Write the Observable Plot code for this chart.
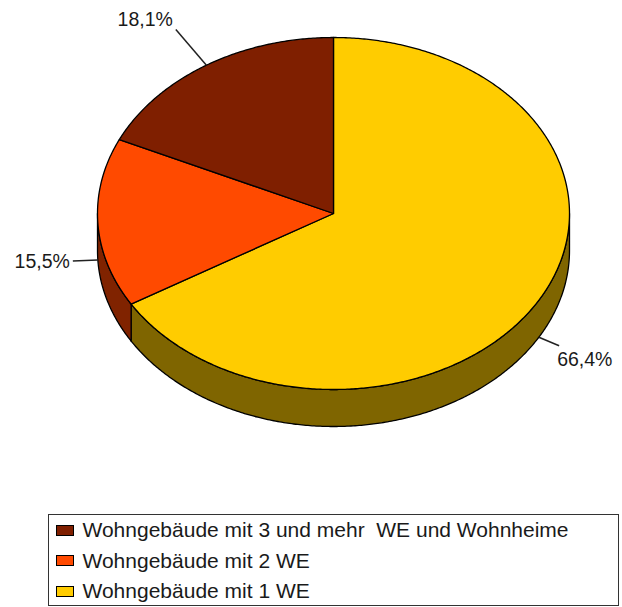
<!DOCTYPE html>
<html><head><meta charset="utf-8">
<script src="https://cdn.jsdelivr.net/npm/d3@7"></script>
<script src="https://cdn.jsdelivr.net/npm/@observablehq/plot@0.6"></script>
<style>
body{margin:0;background:#fff;font-family:"Liberation Sans",Arial,Helvetica,sans-serif;}
#wrap{position:relative;width:622px;height:607px;overflow:hidden;}
#legend{position:absolute;left:48px;top:514px;width:571px;height:92px;box-sizing:border-box;border:1.5px solid #333;padding-top:0px;}
.row{display:flex;align-items:center;height:30.5px;font-size:21px;color:#1a1a1a;white-space:pre;}
.sw{width:18px;height:11px;box-sizing:border-box;border:1.5px solid #000;margin-left:6.5px;margin-right:9px;flex:none;}
</style></head><body><div id="wrap"></div>
<script>
// ---- data ----
const categories = ["Wohngebäude mit 1 WE", "Wohngebäude mit 2 WE", "Wohngebäude mit 3 und mehr  WE und Wohnheime"];
const values = [66.4, 15.5, 18.1];
const colors = ["#FFCC00", "#FF4A00", "#7F1F00"];
const sideColors = ["#7F6500", "#802300", "#401000"];
const legendOrder = [2, 1, 0];

// ---- layout ----
const cx = 333, cy = 213, rx = 236, ry = 176, depth = 37;
const dU = depth / ry;
const leaderLen = [22, 25, 47];
const fmt = d3.formatLocale({decimal: ",", thousands: ".", grouping: [3], currency: ["", "€"]}).format(".1f");

const arcs = d3.pie().sort(null)(values);
const pt = a => [Math.sin(a), Math.cos(a)];
function arcAngles(a0, a1) {
  const n = Math.max(2, Math.ceil((a1 - a0) / (Math.PI / 360)));
  return d3.range(n + 1).map(i => a0 + (a1 - a0) * i / n);
}

const marks = [];
// side walls (front half only)
arcs.forEach((a, i) => {
  const s0 = Math.max(a.startAngle, Math.PI / 2), s1 = Math.min(a.endAngle, 3 * Math.PI / 2);
  if (s1 > s0) {
    const rim = arcAngles(s0, s1).map(pt);
    const poly = [...rim, ...rim.slice().reverse().map(([x, y]) => [x, y - dU])].map(([x, y]) => ({x, y}));
    marks.push(Plot.line(poly, {x: "x", y: "y", fill: sideColors[i], stroke: "#000", strokeWidth: 1.3, curve: "linear-closed"}));
  }
});
// top faces
arcs.forEach((a, i) => {
  const poly = [[0, 0], ...arcAngles(a.startAngle, a.endAngle).map(pt)].map(([x, y]) => ({x, y}));
  marks.push(Plot.line(poly, {x: "x", y: "y", fill: colors[i], stroke: "#000", strokeWidth: 1.3, curve: "linear-closed"}));
});
// leader lines and labels
arcs.forEach((a, i) => {
  const m = (a.startAngle + a.endAngle) / 2;
  const s = Math.sin(m), c = Math.cos(m);
  const front = c < 0;
  const P = [s, c - (front ? dU : 0)];
  const n = Math.hypot(s * rx, c * ry);
  const L = leaderLen[i];
  const E = [P[0] + L * s / n, P[1] + L * c / n];
  marks.push(Plot.link([{x1: P[0], y1: P[1], x2: E[0], y2: E[1]}], {x1: "x1", y1: "y1", x2: "x2", y2: "y2", stroke: "#222", strokeWidth: 1.5}));
  const textAnchor = s > 0 ? "start" : "end";
  const lineAnchor = c > 0.3 ? "bottom" : c < -0.3 ? "top" : "middle";
  const dx = s > 0 ? -2 : -3;
  const dy = c > 0.3 ? -4 : c < -0.3 ? 6 : 1;
  marks.push(Plot.text([{x: E[0], y: E[1], t: fmt(values[i]) + "%"}], {x: "x", y: "y", text: "t", textAnchor, lineAnchor, dx, dy, fontSize: 19.5, fill: "#1a1a1a"}));
});

const chart = Plot.plot({
  width: 622, height: 500,
  marginTop: 0, marginRight: 0, marginBottom: 0, marginLeft: 0,
  x: {domain: [-1, 1], range: [cx - rx, cx + rx], axis: null},
  y: {domain: [-1, 1], range: [cy + ry, cy - ry], axis: null},
  style: {fontFamily: "'Liberation Sans', Arial, Helvetica, sans-serif", background: "#fff"},
  marks
});
const wrap = document.getElementById("wrap");
wrap.appendChild(chart);

const legend = document.createElement("div");
legend.id = "legend";
legendOrder.forEach(i => {
  const row = document.createElement("div");
  row.className = "row";
  const sw = document.createElement("span");
  sw.className = "sw";
  sw.style.background = colors[i];
  const tx = document.createElement("span");
  tx.textContent = categories[i];
  row.appendChild(sw); row.appendChild(tx);
  legend.appendChild(row);
});
wrap.appendChild(legend);
</script></body></html>
